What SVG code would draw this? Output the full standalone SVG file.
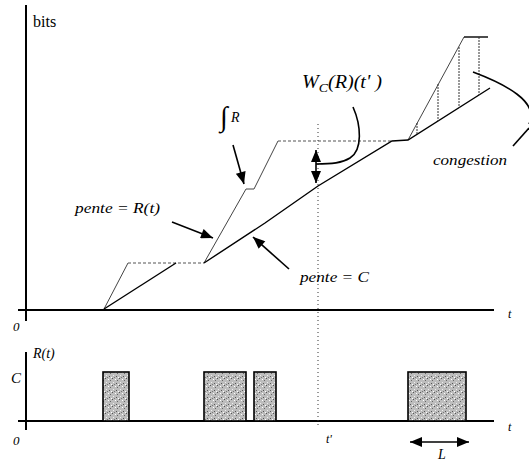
<svg xmlns="http://www.w3.org/2000/svg" width="529" height="463" viewBox="0 0 529 463">
<style>
.ax{stroke:#000;stroke-width:2;fill:none}
.c{stroke:#000;stroke-width:1.4;fill:none}
.r{stroke:#444;stroke-width:1;fill:none}
.rd{stroke:#555;stroke-width:1.2;fill:none;stroke-dasharray:3,2}
.dt{stroke:#333;stroke-width:1;fill:none;stroke-dasharray:1,3}
.hv{stroke:#333;stroke-width:1;fill:none;stroke-dasharray:2,1}
.ar{stroke:#000;stroke-width:1.6;fill:none}
text{font-family:"Liberation Serif","Times New Roman",serif;fill:#000}
.t{font-style:italic}
.bar{stroke:#000;stroke-width:1.6;fill:url(#stip)}
</style>
<defs>
<pattern id="stip" width="7" height="7" patternUnits="userSpaceOnUse">
<rect width="7" height="7" fill="#bdbdbd"/>
<rect x="0" y="0" width="1" height="1" fill="#555"/>
<rect x="3" y="1" width="1" height="1" fill="#fff"/>
<rect x="5" y="2" width="1" height="1" fill="#666"/>
<rect x="1" y="4" width="1" height="1" fill="#eee"/>
<rect x="4" y="5" width="1" height="1" fill="#555"/>
<rect x="6" y="6" width="1" height="1" fill="#fff"/>
<rect x="2" y="6" width="1" height="1" fill="#777"/>
</pattern>
<marker id="ah" viewBox="0 0 12 10" refX="12" refY="5" markerWidth="13" markerHeight="10" markerUnits="userSpaceOnUse" orient="auto-start-reverse">
<path d="M0,0 L12,5 L0,10 Z" fill="#000"/>
</marker>
</defs>

<g id="axes">
<line class="ax" x1="26" y1="5" x2="26" y2="321"/>
<line class="ax" x1="18" y1="310" x2="494" y2="310"/>
<line class="ax" x1="26" y1="352" x2="26" y2="430"/>
<line class="ax" x1="18" y1="421" x2="494" y2="421"/>
</g>

<g id="curves">
<line class="r" x1="104" y1="309" x2="128" y2="263"/>
<line class="rd" x1="128" y1="263" x2="204" y2="263"/>
<polyline class="r" points="204,263 246,189 254,189 278,141"/>
<line class="rd" x1="278" y1="141" x2="392" y2="141"/>
<line class="r" x1="408" y1="140" x2="464" y2="37"/>
<line class="c" x1="464" y1="37" x2="488" y2="37"/>
<line class="c" x1="104" y1="309" x2="176" y2="263"/>
<polyline class="c" points="204,263 265,223 318,186 392,141 408,140 490,88"/>
<line class="hv" x1="417" y1="123" x2="417" y2="134"/>
<line class="hv" x1="438" y1="84" x2="438" y2="121"/>
<line class="hv" x1="459" y1="47" x2="459" y2="108"/>
<line class="hv" x1="479" y1="37" x2="479" y2="95"/>
<line class="dt" x1="318" y1="124" x2="318" y2="428"/>
</g>

<g id="bars">
<rect class="bar" x="103" y="372" width="26" height="49"/>
<rect class="bar" x="204" y="372" width="42" height="49"/>
<rect class="bar" x="254" y="372" width="22" height="49"/>
<rect class="bar" x="408" y="372" width="58" height="49"/>
</g>

<g id="connectors">
<line class="ar" x1="233" y1="145" x2="244" y2="184" marker-end="url(#ah)"/>
<line class="ar" x1="172" y1="222" x2="213" y2="238" marker-end="url(#ah)"/>
<line class="ar" x1="289" y1="269" x2="253" y2="237" marker-end="url(#ah)"/>
<line class="ar" x1="316" y1="164" x2="316" y2="150" marker-end="url(#ah)"/>
<line class="ar" x1="316" y1="164" x2="316" y2="183" marker-end="url(#ah)"/>
<path class="ar" d="M353,107 C361,125 363,150 350,158 C342,163 332,164 316,164"/>
<path class="ar" d="M473,72 C505,84 540,102 529,124"/>
<path class="ar" d="M529,128 L513,146"/>
<line class="ar" x1="410" y1="442" x2="469" y2="442" marker-start="url(#ah)" marker-end="url(#ah)"/>
</g>

<g id="labels">
<text x="33" y="27" font-size="16">bits</text>
<text x="220" y="126" font-size="28">∫</text>
<text class="t" x="231" y="122" font-size="14">R</text>
<text class="t" x="302" y="88" font-size="19" textLength="80" lengthAdjust="spacingAndGlyphs">W<tspan font-size="13" dy="4">C</tspan><tspan dy="-4">(R)(t' )</tspan></text>
<text class="t" x="75" y="213" font-size="15" textLength="85" lengthAdjust="spacingAndGlyphs">pente = R(t)</text>
<text class="t" x="300" y="282" font-size="15" textLength="69" lengthAdjust="spacingAndGlyphs">pente = C</text>
<text class="t" x="433" y="165" font-size="14" textLength="74" lengthAdjust="spacingAndGlyphs">congestion</text>
<text class="t" x="13" y="331" font-size="13">0</text>
<text class="t" x="508" y="318" font-size="12">t</text>
<text class="t" x="33" y="358" font-size="14">R(t)</text>
<text class="t" x="11" y="383" font-size="15">C</text>
<text class="t" x="13" y="445" font-size="13">0</text>
<text class="t" x="508" y="431" font-size="12">t</text>
<text class="t" x="326" y="443" font-size="12">t'</text>
<text class="t" x="438" y="459" font-size="14">L</text>
</g>
</svg>
